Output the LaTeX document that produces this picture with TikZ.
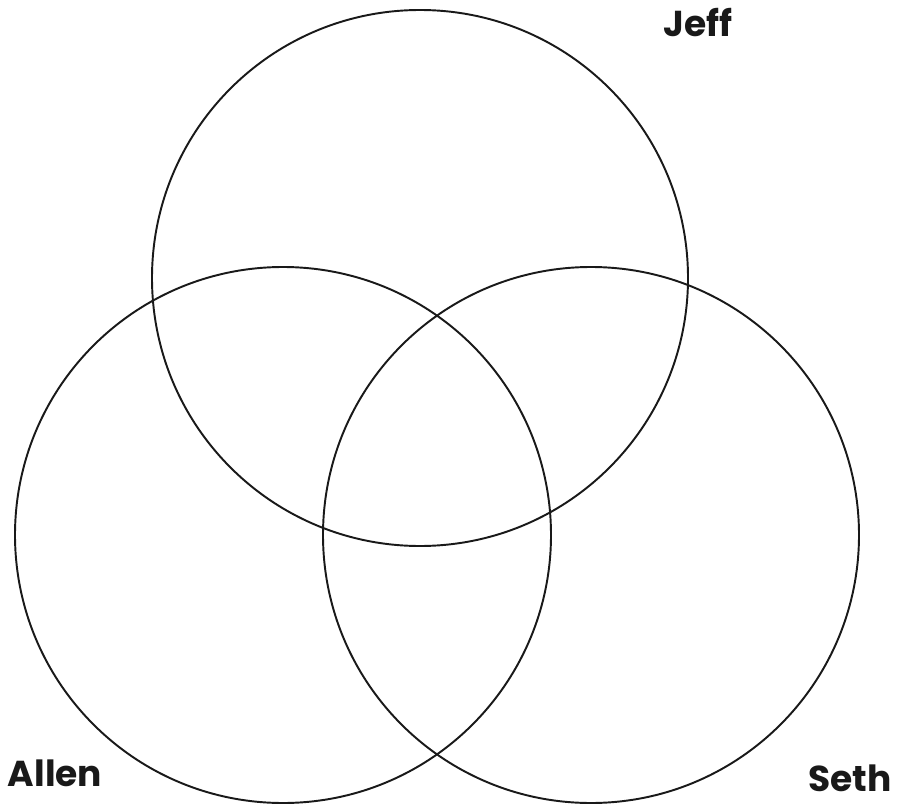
\documentclass[tikz,border=0pt]{standalone}
\usepackage{fontspec}
\setmainfont{Poppins}
\usetikzlibrary{positioning}

\begin{document}
\begin{tikzpicture}[
    % Define styles
    setcircle/.style={circle, draw=black!90, line width=1.1pt, minimum size=10.72cm, inner sep=0pt},
    setlabel/.style={font=\fontsize{20.5}{24}\selectfont\bfseries, text=black!90, inner sep=0pt}
]
    \useasboundingbox (0,0) rectangle (18.04,-16.08);

    % 1. The three sets
    \node[setcircle] (jeffset) at (8.4, -5.56) {};
    \node[setcircle] (allenset) at (5.66, -10.7) {};
    \node[setcircle] (sethset) at (11.82, -10.7) {};

    % 2. Labels
    \node[setlabel] (jeff) at (13.96, -0.46) {Jeff};
    \node[setlabel] (allen) at (1.1, -15.46) {Allen};
    \node[setlabel] (seth) at (17.0, -15.56) {Seth};

\end{tikzpicture}
\end{document}
